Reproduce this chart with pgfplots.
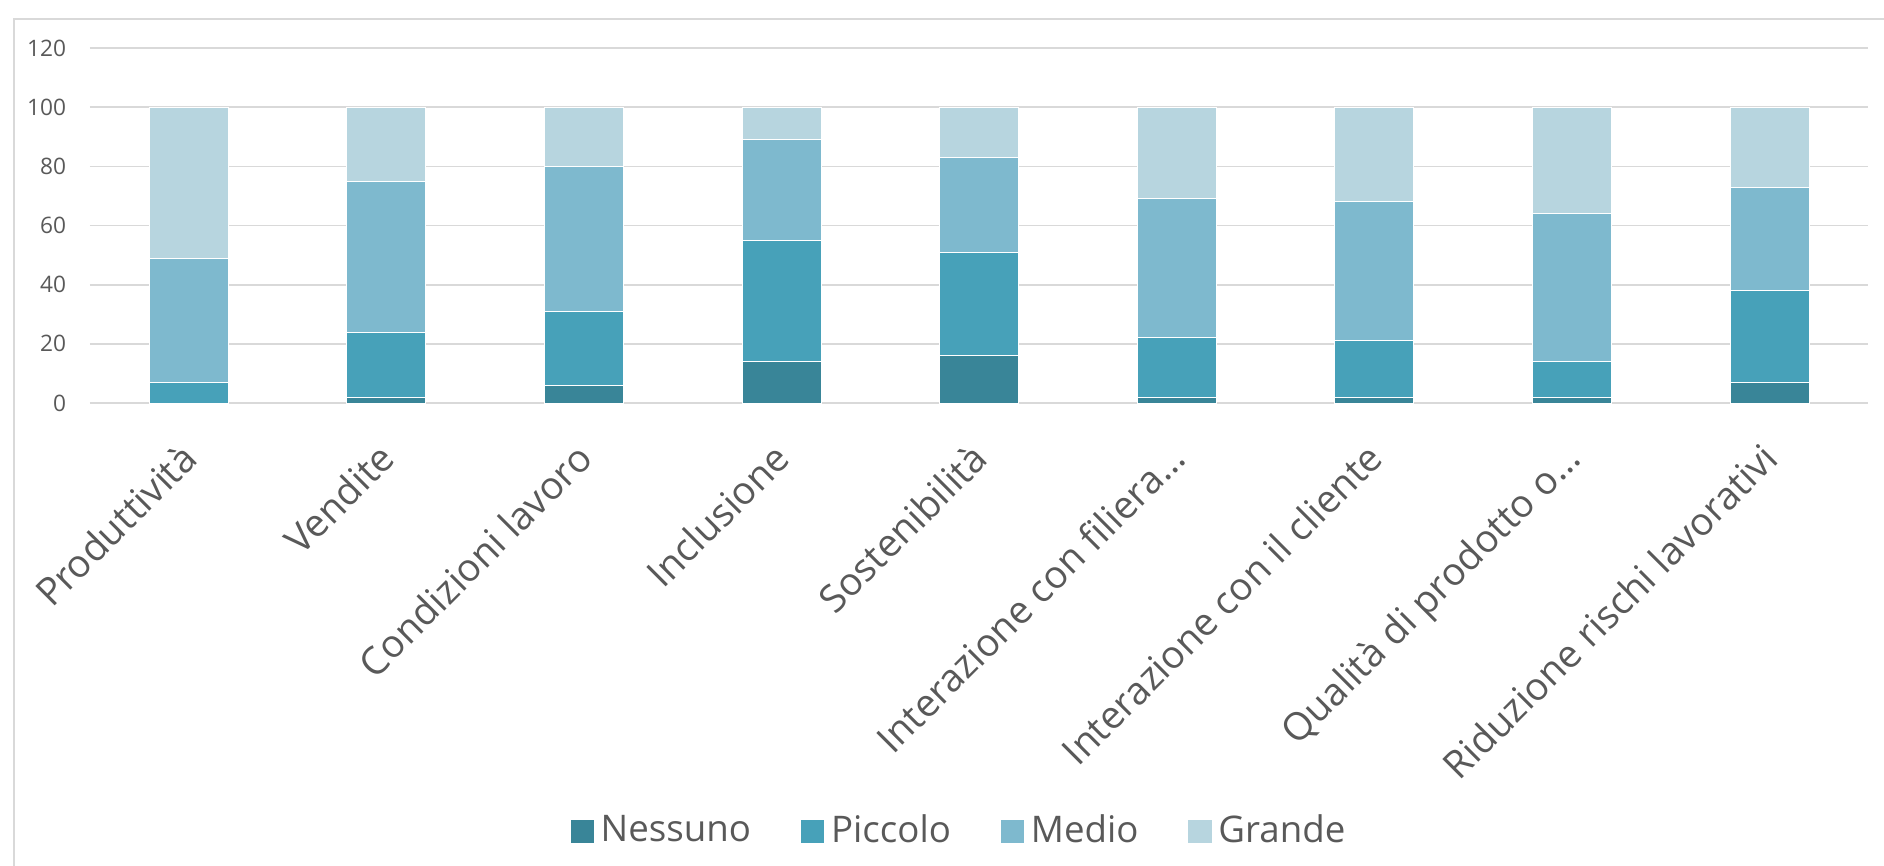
\documentclass[border=0pt]{standalone}
\usepackage{pgfplots}
\pgfplotsset{compat=1.18}
\usepackage{pgfplotstable}
\usepackage{fontspec}
\setmainfont{Open Sans}

\definecolor{cNessuno}{HTML}{398598}
\definecolor{cPiccolo}{HTML}{47A1B9}
\definecolor{cMedio}{HTML}{7EB9CE}
\definecolor{cGrande}{HTML}{B7D5DF}
\definecolor{gridgray}{HTML}{D9D9D9}
\definecolor{txtgray}{HTML}{595959}

% Share (%) of answers per impact level, one row per area
\pgfplotstableread{
x Nessuno Piccolo Medio Grande
0 0  7  42 51
1 2  22 51 25
2 6  25 49 20
3 14 41 34 11
4 16 35 32 17
5 2  20 47 31
6 2  19 47 32
7 2  12 50 36
8 7  31 35 27
}\impatto

\begin{document}
\begin{tikzpicture}
\path[use as bounding box] (-27pt,-138.8pt) rectangle (538.2pt,120.9pt);
% chart frame
\draw[gridgray, line width=0.5pt] (-22.8pt,-145pt) -- (-22.8pt,115.2pt) -- (545pt,115.2pt);
\begin{axis}[
  at={(0,0)}, anchor=south west,
  scale only axis,
  width=533.5pt, height=106.5pt,
  ybar stacked,
  bar width=0.4,
  xmin=-0.5, xmax=8.5,
  ymin=0, ymax=120,
  ytick={0,20,...,120},
  xtick=data,
  xticklabels={Produttività, Vendite, Condizioni lavoro, Inclusione, Sostenibilità, Interazione con filiera…, Interazione con il cliente, Qualità di prodotto o…, Riduzione rischi lavorativi},
  axis line style={draw=none},
  major tick length=0pt,
  ymajorgrids,
  grid style={gridgray, line width=0.5pt},
  /pgf/number format/assume math mode=true,
  tick label style={font=\fontsize{6.8}{8}\selectfont, text=txtgray},
  yticklabel style={anchor=east, inner sep=0pt, xshift=-7pt},
  xticklabel style={font=\fontsize{11.5}{13.5}\selectfont, xshift=-3pt, yshift=-11pt, rotate=45, anchor=north east, inner sep=0pt},
  legend columns=4,
  legend style={
    at={(0.49,-1.2066)}, anchor=center,
    draw=none, fill=none,
    font=\fontsize{11}{13}\selectfont, text=txtgray,
    /tikz/every even column/.append style={column sep=13pt},
  },
  legend image code/.code={\fill[#1,draw=none] (0pt,-3.5pt) rectangle (7pt,3.5pt);},
  every axis plot/.append style={draw=white, line width=0.3pt},
]
\addplot[fill=cNessuno] table[x=x, y=Nessuno] {\impatto};
\addplot[fill=cPiccolo] table[x=x, y=Piccolo] {\impatto};
\addplot[fill=cMedio] table[x=x, y=Medio] {\impatto};
\addplot[fill=cGrande] table[x=x, y=Grande] {\impatto};
\legend{Nessuno, Piccolo, Medio, Grande}
\end{axis}
\end{tikzpicture}
\end{document}
